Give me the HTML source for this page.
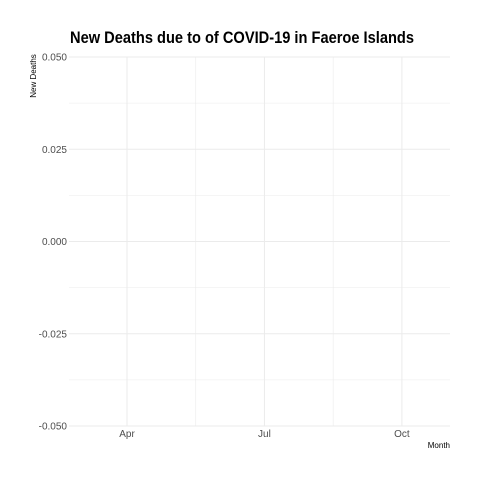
<!DOCTYPE html>
<html><head><meta charset="utf-8"><style>
body{margin:0;background:#fff;}
svg{display:block;font-family:"Liberation Sans",sans-serif;}
</style></head><body>
<svg id="chart" width="480" height="480" viewBox="0 0 480 480">
<rect width="480" height="480" fill="#fff"/>
<text x="70" y="43" font-size="17" font-weight="bold" fill="#000" textLength="344" lengthAdjust="spacingAndGlyphs">New Deaths due to of COVID-19 in Faeroe Islands</text>
<text transform="translate(36,76) rotate(-90)" font-size="8" text-anchor="middle" fill="#000">New Deaths</text>
<text x="450" y="448" font-size="8" text-anchor="end" fill="#000">Month</text>
<g id="grid"></g>
<g id="ticks"></g>
</svg>
<script>
const yTicks=[0.05,0.025,0,-0.025,-0.05];
const yTickLabels=["0.050","0.025","0.000","-0.025","-0.050"];
const xTicks=[3,6,9]; // month index (Apr=3)
const xTickLabels=["Apr","Jul","Oct"];
const xMinor=[4.5,7.5];
const yMin=-0.05,yMax=0.05,xMin=1.734,xMax=10.05;
const L=69,R=450,T=57,B=426;
const ys=v=>B-(v-yMin)/(yMax-yMin)*(B-T);
const xs=v=>L+(v-xMin)/(xMax-xMin)*(R-L);
const NS="http://www.w3.org/2000/svg";
const g=document.getElementById('grid'),t=document.getElementById('ticks');
function line(x1,y1,x2,y2,w,name){const l=document.createElementNS(NS,'line');
l.setAttribute('x1',x1);l.setAttribute('y1',y1);l.setAttribute('x2',x2);l.setAttribute('y2',y2);
l.setAttribute('stroke','#ebebeb');l.setAttribute('stroke-width',w);


g.appendChild(l);}
for(let i=0;i<yTicks.length-1;i++){const m=(yTicks[i]+yTicks[i+1])/2;line(L,ys(m),R,ys(m),0.6,'y-minor-gridline');}
xMinor.forEach(v=>line(xs(v),T,xs(v),B,0.6,'x-minor-gridline'));
yTicks.forEach((v,i)=>{line(L,ys(v),R,ys(v),1,'y-major-gridline');
const e=document.createElementNS(NS,'text');e.setAttribute('x',L-2);e.setAttribute('y',ys(v)+3.5);
e.setAttribute('text-anchor','end');e.setAttribute('font-size','10');e.setAttribute('fill','#4d4d4d');
e.textContent=yTickLabels[i];


t.appendChild(e);});
xTicks.forEach((v,i)=>{line(xs(v),T,xs(v),B,1,'x-major-gridline');
const e=document.createElementNS(NS,'text');e.setAttribute('x',xs(v));e.setAttribute('y',B+11);
e.setAttribute('text-anchor','middle');e.setAttribute('font-size','10');e.setAttribute('fill','#4d4d4d');
e.textContent=xTickLabels[i];


t.appendChild(e);});
</script>
</body></html>
